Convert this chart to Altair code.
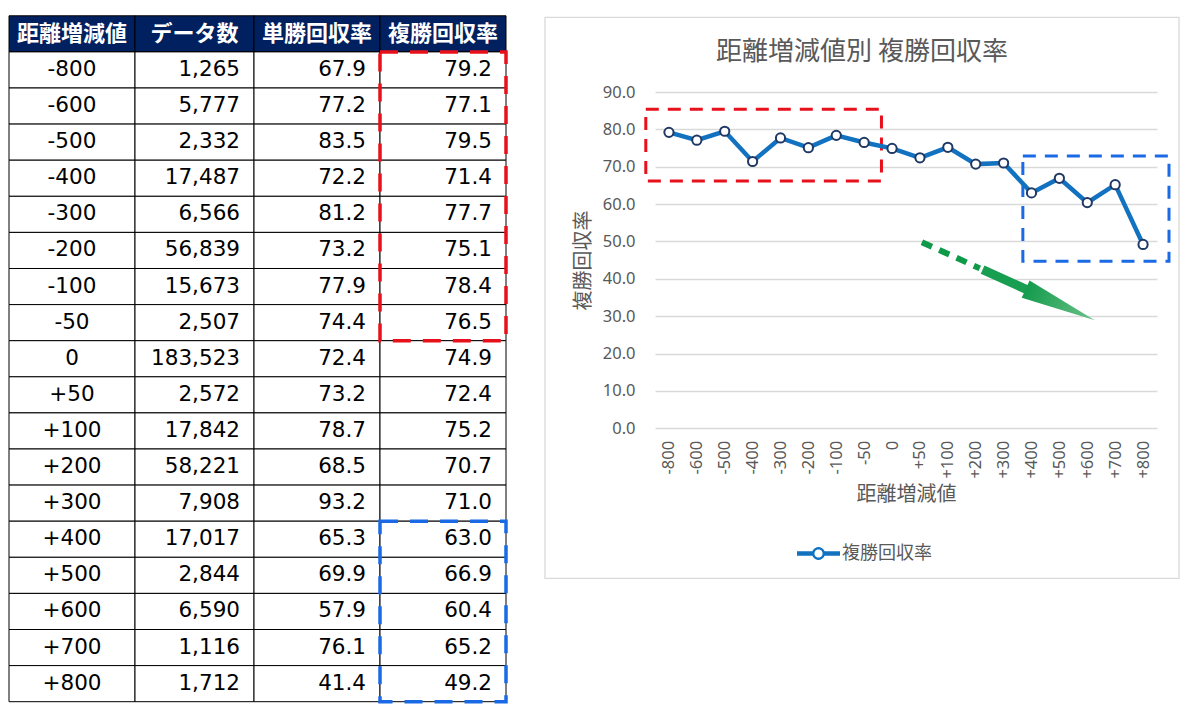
import math
import altair as alt
import pandas as pd

# ---------------- data ----------------
categories = ["-800", "-600", "-500", "-400", "-300", "-200", "-100", "-50", "0",
              "+50", "+100", "+200", "+300", "+400", "+500", "+600", "+700", "+800"]
counts = [1265, 5777, 2332, 17487, 6566, 56839, 15673, 2507, 183523,
          2572, 17842, 58221, 7908, 17017, 2844, 6590, 1116, 1712]
win_rates = [67.9, 77.2, 83.5, 72.2, 81.2, 73.2, 77.9, 74.4, 72.4,
             73.2, 78.7, 68.5, 93.2, 65.3, 69.9, 57.9, 76.1, 41.4]
place_rates = [79.2, 77.1, 79.5, 71.4, 77.7, 75.1, 78.4, 76.5, 74.9,
               72.4, 75.2, 70.7, 71.0, 63.0, 66.9, 60.4, 65.2, 49.2]
headers = ["距離増減値", "データ数", "単勝回収率", "複勝回収率"]
y_ticks = [0, 10, 20, 30, 40, 50, 60, 70, 80, 90]

chart_title = "距離増減値別 複勝回収率"
series_name = "複勝回収率"
x_title = "距離増減値"
y_title = "複勝回収率"

red_group = categories[0:8]
blue_group = categories[13:18]

# ---------------- styles / layout ----------------
CJK = "Noto Sans CJK JP"
NUM = "DejaVu Sans"
AX = "Noto Sans"
NAVY = "#002060"
GRAY = "#595959"
GRID = "#d9d9d9"
LINE_C = "#1272c0"
PT_STROKE = "#1f3864"
RED = "#e8101a"
BLUE = "#1a6ae6"
GREEN = "#0f9a4a"

COL_W = [126, 119, 126, 126]
edges = [0]
for w in COL_W:
    edges.append(edges[-1] + w)
TABLE_W = edges[-1]
ROW_H = 36.1
N_ROWS = len(categories) + 1
TABLE_TOP = 76.2            # table top sits this far above the chart's plot top
T_D0 = TABLE_TOP / ROW_H
TABLE_PANEL_H = (N_ROWS - T_D0) * ROW_H
PAD_R = 14

PLOT_W = 502
PLOT_H = 336.3

# ---------------- table ----------------
cells = []
for c, h in enumerate(headers):
    cells.append(dict(x0=edges[c], x1=edges[c + 1], y0=0, y1=1, fill=NAVY,
                      text=h, kind="header"))
for r, cat in enumerate(categories):
    vals = [cat, f"{counts[r]:,}", f"{win_rates[r]:.1f}", f"{place_rates[r]:.1f}"]
    for c, v in enumerate(vals):
        cells.append(dict(x0=edges[c], x1=edges[c + 1], y0=r + 1, y1=r + 2,
                          fill="white", text=v,
                          kind="center" if c == 0 else "right"))
df_cells = pd.DataFrame(cells)
df_cells["tx"] = [
    (a + b) / 2 if k in ("header", "center") else b - PAD_R
    for a, b, k in zip(df_cells.x0, df_cells.x1, df_cells.kind)
]
df_cells["ty"] = df_cells.y0 + 0.5

tboxes = []
for grp, col in ((red_group, RED), (blue_group, BLUE)):
    tboxes.append(dict(x0=edges[3], x1=edges[4],
                       y0=categories.index(grp[0]) + 1,
                       y1=categories.index(grp[-1]) + 2, color=col))
df_tboxes = pd.DataFrame(tboxes)

txs = alt.Scale(domain=[0, TABLE_W], nice=False, zero=False)
tys = alt.Scale(domain=[T_D0, N_ROWS], nice=False, zero=False, reverse=True)

base_t = alt.Chart(df_cells)
t_rects = base_t.mark_rect(stroke="black", strokeWidth=1).encode(
    x=alt.X("x0:Q", scale=txs, axis=None), x2="x1:Q",
    y=alt.Y("y0:Q", scale=tys, axis=None), y2="y1:Q",
    fill=alt.Fill("fill:N", scale=None),
)
t_head = base_t.transform_filter("datum.kind == 'header'").mark_text(
    font=CJK, fontSize=22, fontWeight="bold", color="white",
    align="center", baseline="middle",
).encode(x=alt.X("tx:Q", scale=txs, axis=None),
         y=alt.Y("ty:Q", scale=tys, axis=None), text="text:N")
t_center = base_t.transform_filter("datum.kind == 'center'").mark_text(
    font=NUM, fontSize=21.5, color="black", align="center", baseline="middle",
).encode(x=alt.X("tx:Q", scale=txs, axis=None),
         y=alt.Y("ty:Q", scale=tys, axis=None), text="text:N")
t_right = base_t.transform_filter("datum.kind == 'right'").mark_text(
    font=NUM, fontSize=21.5, color="black", align="right", baseline="middle",
).encode(x=alt.X("tx:Q", scale=txs, axis=None),
         y=alt.Y("ty:Q", scale=tys, axis=None), text="text:N")
t_boxes = alt.Chart(df_tboxes).mark_rect(
    fillOpacity=0, strokeWidth=3.5, strokeDash=[18, 12],
).encode(
    x=alt.X("x0:Q", scale=txs, axis=None), x2="x1:Q",
    y=alt.Y("y0:Q", scale=tys, axis=None), y2="y1:Q",
    stroke=alt.Stroke("color:N", scale=None),
)
table = alt.layer(t_rects, t_head, t_center, t_right, t_boxes).properties(
    width=TABLE_W, height=TABLE_PANEL_H)

# ---------------- line chart ----------------
df_line = pd.DataFrame({"idx": list(range(len(categories))), "rate": place_rates,
                        "cat": categories, "series": series_name})

xs = alt.Scale(domain=[-0.5, len(categories) - 0.5], nice=False, zero=False)
ys = alt.Scale(domain=[0, 90], nice=False, zero=False)
label_expr = "[" + ",".join(f"'{c}'" for c in categories) + "][datum.value]"

x_axis = alt.Axis(values=list(range(len(categories))), labelExpr=label_expr,
                  labelAngle=270, labelFont=AX, labelFontSize=16.5, labelColor=GRAY,
                  labelPadding=12, ticks=False, domain=False, grid=False,
                  title=x_title, titleFont=CJK, titleFontSize=20,
                  titleFontWeight="normal", titleColor=GRAY,
                  titleX=PLOT_W / 2, titleY=66, titleBaseline="middle",
                  titleAlign="center")
y_axis = alt.Axis(values=y_ticks, format=".1f", labelFont=AX, labelFontSize=16.5,
                  labelColor=GRAY, labelPadding=20, ticks=False, domain=False,
                  grid=True, gridColor=GRID, gridWidth=1.3,
                  title=y_title, titleFont=CJK, titleFontSize=20,
                  titleFontWeight="normal", titleColor=GRAY, titleAngle=270,
                  titleX=-72, titleY=168, titleBaseline="middle",
                  titleAlign="center")


def X(f):
    return alt.X(f, type="quantitative", scale=xs, axis=x_axis)


def Y(f):
    return alt.Y(f, type="quantitative", scale=ys, axis=y_axis)


one = pd.DataFrame({"k": [0]})
border = alt.Chart(one).mark_rect(fillOpacity=0, stroke=GRID, strokeWidth=1.3).encode(
    x=alt.value(-110), x2=alt.value(524), y=alt.value(-74.7), y2=alt.value(486.3))

# legend symbol: line with ring marker
ring_outer = [(0.3 * math.cos(2 * math.pi * i / 24), 0.3 * math.sin(2 * math.pi * i / 24)) for i in range(24)]
ring_inner = [(0.19 * math.cos(-2 * math.pi * i / 24), 0.19 * math.sin(-2 * math.pi * i / 24)) for i in range(24)]


def poly(pts):
    return "M" + " L".join(f"{a:.3f},{b:.3f}" for a, b in pts) + " Z"


LEG_PATH = (poly([(-1, -0.11), (-0.28, -0.11), (-0.28, 0.11), (-1, 0.11)]) + " " +
            poly([(0.28, -0.11), (1, -0.11), (1, 0.11), (0.28, 0.11)]) + " " +
            poly(ring_outer) + " " + poly(ring_inner))

line = alt.Chart(df_line).mark_line(strokeWidth=4.5).encode(
    x=X("idx"), y=Y("rate"),
    color=alt.Color("series:N", scale=alt.Scale(range=[LINE_C]),
                    legend=alt.Legend(orient="none", legendX=142, legendY=440,
                                      title=None, symbolType=LEG_PATH,
                                      symbolSize=43 * 43, symbolFillColor=LINE_C,
                                      symbolStrokeColor=LINE_C,
                                      symbolStrokeWidth=0, labelFont=CJK,
                                      labelFontSize=18, labelColor=GRAY,
                                      labelOffset=2, padding=0)),
)
pts = alt.Chart(df_line).mark_point(filled=True, fill="white", stroke=PT_STROKE,
                                    strokeWidth=2, size=85, opacity=1).encode(
    x=X("idx"), y=Y("rate"))

df_boxes = pd.DataFrame({"x0": [-0.83, 12.69], "x1": [7.62, 17.93],
                         "y0": [66.2, 44.7], "y1": [85.4, 72.9],
                         "color": [RED, BLUE]})
boxes = alt.Chart(df_boxes).mark_rect(fillOpacity=0, strokeWidth=3,
                                      strokeDash=[13, 9]).encode(
    x=X("x0"), x2="x1", y=Y("y0"), y2="y1",
    stroke=alt.Stroke("color:N", scale=None))

# trend arrow
a_start = (9.07, 49.8)
a_tip = (15.27, 28.9)


def along(t):
    return (a_start[0] + (a_tip[0] - a_start[0]) * t,
            a_start[1] + (a_tip[1] - a_start[1]) * t)


px_x = PLOT_W / len(categories)
px_y = PLOT_H / 90
ddx = (a_tip[0] - a_start[0]) * px_x
ddy = (a_start[1] - a_tip[1]) * px_y
ang = math.degrees(math.atan2(ddy, ddx))
alen = math.hypot(ddx, ddy)
T_DASH, T_BASE = 0.335, 0.60
head_len = (1 - T_BASE) * alen

p0, p1, p2 = along(0), along(T_DASH), along(T_BASE)
hc = along((1 + T_BASE) / 2)
df_dash = pd.DataFrame({"x0": [p0[0]], "y0": [p0[1]], "x1": [p1[0]], "y1": [p1[1]]})
df_shaft = pd.DataFrame({"x0": [p1[0] + 0.1], "y0": [p1[1] - 0.33], "x1": [p2[0] + 0.1], "y1": [p2[1] - 0.33]})
df_head = pd.DataFrame({"x": [hc[0]], "y": [hc[1]]})

arrow_dash = alt.Chart(df_dash).mark_rule(color=GREEN, strokeWidth=6,
                                          strokeDash=[11, 8]).encode(
    x=X("x0"), y=Y("y0"), x2="x1", y2="y1")
arrow_shaft = alt.Chart(df_shaft).mark_rule(color="#189e50", strokeWidth=9).encode(
    x=X("x0"), y=Y("y0"), x2="x1", y2="y1")
HEAD_PATH = "M-1,-0.25 L1,0 L-1,0.25 Z"
arrow_head = alt.Chart(df_head).mark_point(
    shape=HEAD_PATH, filled=True, opacity=1, strokeWidth=0,
    size=head_len ** 2, angle=ang,
    fill=alt.LinearGradient(gradient="linear", stops=[
        alt.GradientStop(color="#139b4c", offset=0),
        alt.GradientStop(color="#6cc289", offset=1)]),
).encode(x=X("x"), y=Y("y"))

right = alt.layer(border, boxes, arrow_dash, arrow_shaft, arrow_head,
                  line, pts).properties(
    width=PLOT_W, height=PLOT_H,
    title=alt.TitleParams(text=chart_title, font=CJK, fontSize=26,
                          fontWeight="normal", color=GRAY, anchor="middle",
                          offset=-48, frame="bounds"))

chart = alt.hconcat(table, right, spacing=36).resolve_legend(
    color="independent").properties(
    padding={"left": 0, "top": 7, "right": 0, "bottom": 0},
    background="white",
).configure_view(strokeWidth=0)

chart.save("out.html", embed_options={"renderer": "svg", "actions": False})
